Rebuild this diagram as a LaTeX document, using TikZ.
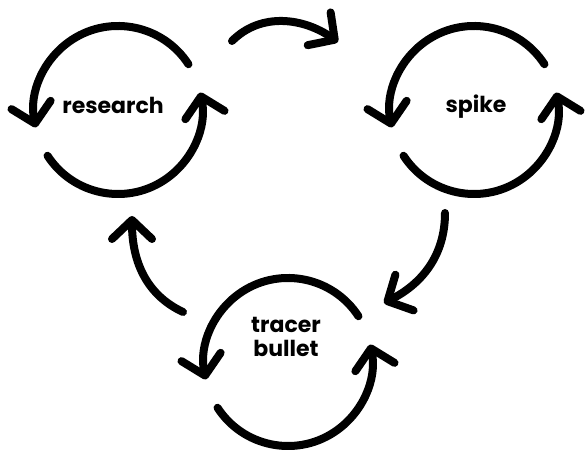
\documentclass[tikz,border=0pt]{standalone}
\usepackage{fontspec}
\newfontfamily\labfont{Poppins}
\usetikzlibrary{arrows.meta}
\begin{document}
\begin{tikzpicture}[x=1pt,y=1pt,
  stroke/.style={line width=8pt,line cap=round,black},
  tipped/.style={stroke,-{Straight Barb[length=19pt,width=40pt,round]}},
  lab/.style={font=\labfont\bfseries\fontsize{22}{24.5}\selectfont,inner sep=0pt,anchor=base,align=center}]
\useasboundingbox (0,0) rectangle (587,460);
% circle centres
\coordinate (rc) at (118,350);
\coordinate (sc) at (474,350);
\coordinate (tc) at (288,98);
% labels
\node[lab] (research) at (113,346) {research};
\node[lab] (spike) at (476,347.5) {spike};
\node[lab] (tracer) at (286,103) {tracer\\bullet};
% cycle arcs
\foreach \c in {rc,sc,tc}{
  \draw[tipped] ([shift={(33:84)}]\c) arc[start angle=33,end angle=192,radius=84];
  \draw[tipped] ([shift={(213:84)}]\c) arc[start angle=213,end angle=372,radius=84];
}
% connectors
\coordinate (c1s) at (232,419);
\coordinate (c1e) at (338,418);
\coordinate (c2s) at (445,247);
\coordinate (c2e) at (384,157);
\coordinate (c3s) at (183,148);
\coordinate (c3e) at (132,244);
\draw[tipped] (c1s) to[out=45,in=145] (c1e);
\draw[tipped] (c2s) to[out=-90,in=27] (c2e);
\draw[tipped] (c3s) to[out=155,in=-90] (c3e);
\end{tikzpicture}
\end{document}
